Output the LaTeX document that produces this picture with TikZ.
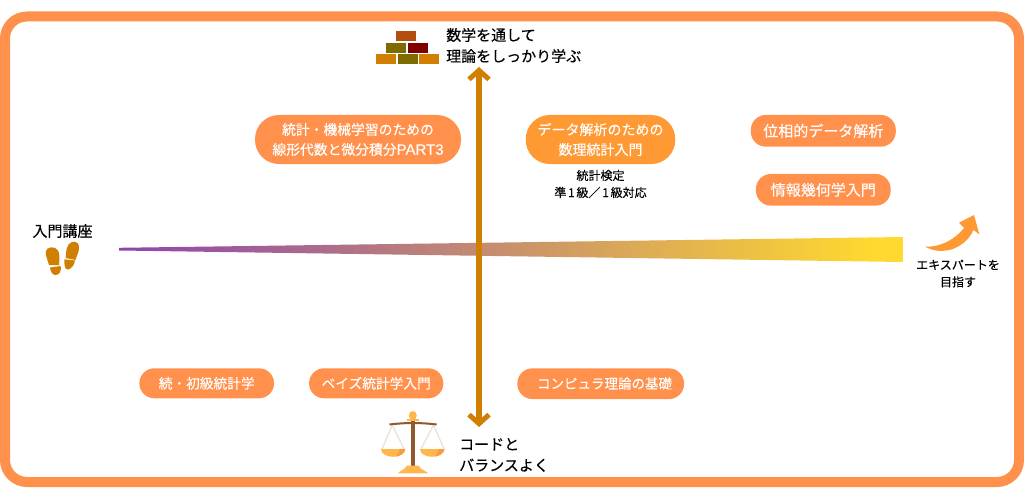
\documentclass[tikz,border=0pt]{standalone}
\usepackage{fontspec}
\setmainfont[FakeBold=0.3]{Noto Sans CJK JP}
\newfontfamily\latinface[FakeBold=0.2]{Liberation Sans}
\usetikzlibrary{arrows.meta}
\definecolor{frameor}{HTML}{FF914D}
\definecolor{pillhi}{HTML}{FF9933}
\definecolor{axisor}{HTML}{D17F00}
\definecolor{brickA}{HTML}{B34D10}
\definecolor{brickB}{HTML}{7F6A00}
\definecolor{brickC}{HTML}{7F0000}
\definecolor{gradA}{HTML}{8E44AD}
\definecolor{gradB}{HTML}{FFD92F}
\definecolor{beam}{HTML}{91572F}
\definecolor{pan}{HTML}{FFB74D}
\definecolor{pandark}{HTML}{FF9A3C}
\definecolor{strng}{HTML}{EFE3D6}
\tikzset{
  pill/.style={rounded corners=15pt,fill=frameor,text=white,inner sep=0pt,align=center,font=\fontsize{14}{20}\selectfont},
  lab/.style={text=black,align=left,inner sep=0pt,font=\fontsize{15}{21}\selectfont},
  smalllab/.style={text=black,align=center,inner sep=0pt,font=\fontsize{12}{17}\selectfont},
  brick/.style={minimum width=20pt,minimum height=10pt,inner sep=0pt},
  axisline/.style={draw=axisor,line width=5.4pt,{Straight Barb[length=9pt,width=20pt,line width=5pt]}-{Straight Barb[length=9pt,width=20pt,line width=5pt]}}
}
\begin{document}
\begin{tikzpicture}[x=1pt,y=-1pt]
\useasboundingbox (0,0) rectangle (1024,500);
\fill[white] (0,0) rectangle (1024,500);
\draw[frameor,line width=10pt,rounded corners=22pt] (5,16.5) rectangle (1019,482);
% wedge
\begin{scope}
\clip (119,247.8) -- (903,237) -- (903,262) -- (119,250.5) -- cycle;
\shade[left color=gradA,right color=gradB] (119,230) rectangle (875,270);
\fill[gradB] (874.5,230) rectangle (903,270);
\end{scope}
% axis
\coordinate (top) at (479,67);
\coordinate (bot) at (479,427);
\draw[axisline] (top) -- (bot);
% bricks
\node[brick,fill=brickA] (b1) at (406,36) {};
\node[brick,fill=brickB] (b2) at (396,47.7) {};
\node[brick,fill=brickC] (b3) at (417.7,47.7) {};
\node[brick,fill=axisor] (b4) at (386,59.3) {};
\node[brick,fill=brickB] (b5) at (407.7,59.3) {};
\node[brick,fill=axisor] (b6) at (429.3,59.3) {};
\node[lab,anchor=west] (toplab) at (446,45.5) {数学を通して\\理論をしっかり学ぶ};
\node[lab,anchor=west] (botlab) at (459,455) {コードと\\バランスよく};
% pills
\node[pill,rounded corners=24pt,minimum width=206pt,minimum height=49pt,font=\fontsize{13.8}{20}\selectfont] (p1) at (358,139.5) {統計・機械学習のための\\線形代数と微分積分{\latinface\fontsize{15}{20}\selectfont PART3}};
\node[pill,rounded corners=24pt,fill=pillhi,minimum width=149.5pt,minimum height=49pt] (p2) at (600.5,139.5) {データ解析のための\\数理統計入門};
\node[smalllab] (p2note) at (600.5,184) {統計検定\\準\kern1.75pt 1\kern1.75pt 級／\kern1.75pt 1\kern1.75pt 級対応};
\node[pill,minimum width=145pt,minimum height=31.7pt,font=\fontsize{15}{20}\selectfont] (p3) at (823.3,130.8) {位相的データ解析};
\node[pill,minimum width=134.7pt,minimum height=31.7pt,font=\fontsize{15}{20}\selectfont] (p4) at (823.3,189.8) {情報幾何学入門};
\node[pill,minimum width=134.7pt,minimum height=30pt,font=\fontsize{13.7}{18}\selectfont] (p5) at (206.7,383.3) {続・初級統計学};
\node[pill,minimum width=134.3pt,minimum height=30pt,font=\fontsize{13.7}{18}\selectfont] (p6) at (376.2,383.3) {ベイズ統計学入門};
\node[pill,minimum width=166.7pt,minimum height=30.7pt] (p7) at (600.7,383.7) {};
\node[text=white,inner sep=0pt,font=\fontsize{13.5}{18}\selectfont] (p7t) at (604.5,383.5) {コンピュラ理論の基礎};
% left
\node[lab,anchor=center,align=center] (start) at (62.5,231) {入門講座};
\fill[axisor] (45.7,252) .. controls (46,246.5) and (55,245.5) .. (58,250.5) .. controls (60,254) and (59.5,260) .. (59,265) -- (49,265) .. controls (47.5,260) and (45.7,256) .. (45.7,252) -- cycle;
\fill[axisor] (50,267.5) -- (60.7,266) .. controls (61.5,270.5) and (60,275) .. (55.5,275) .. controls (52,275) and (50.5,271) .. (50,267.5) -- cycle;
\fill[axisor] (65.7,258) .. controls (65.7,252) and (66.5,243.5) .. (72,242) .. controls (77.5,241) and (79.5,244) .. (79,249) .. controls (78.5,253) and (76.5,256) .. (75.5,260) -- cycle;
\fill[axisor] (64.5,259.3) -- (75,260.5) .. controls (74.5,265) and (71,269.5) .. (67.5,269.5) .. controls (64.5,269.5) and (64,263) .. (64.5,259.3) -- cycle;
% expert arrow
\fill[pillhi] (925,246.7) .. controls (942,247) and (955,239) .. (964,228) -- (959,222.7) -- (974,215) -- (979.3,234.3) -- (973.5,230) .. controls (968,243) and (953,253) .. (936,250.5) .. controls (932,250) and (928,248) .. (925,246.7) -- cycle;
\node[smalllab] (expert) at (958,273.5) {エキスパートを\\目指す};
% scales
\draw[strng,line width=1.4pt,line join=round] (392.3,425) -- (382,449) (392.3,425) -- (404,449);
\draw[strng,line width=1.4pt,line join=round] (433.5,425) -- (421,449) (433.5,425) -- (444,449);
\fill[pan] (381,449) -- (405.3,449) .. controls (405,454) and (399,456.8) .. (393,456.8) .. controls (387,456.8) and (381,454) .. (381,449) -- cycle;
\fill[pan] (420,449) -- (444.5,449) .. controls (444,454) and (438,456.8) .. (432,456.8) .. controls (426,456.8) and (420,454) .. (420,449) -- cycle;
\fill[pandark] (400,449) -- (405.3,449) .. controls (405,453) and (401,455.8) .. (396,456.5) .. controls (398,454) and (399.5,452) .. (400,449) -- cycle;
\fill[pandark] (439,449) -- (444.5,449) .. controls (444,453) and (440,455.8) .. (435,456.5) .. controls (437,454) and (438.5,452) .. (439,449) -- cycle;
\fill[beam] (410.7,420) rectangle (415.2,468);
\draw[beam,line width=2pt] (389.5,424.5) .. controls (398,423.5) and (405,423) .. (413,423) .. controls (421,423) and (428,423.5) .. (436.7,424.5);
\fill[pan] (412.8,415.5) ellipse (4pt and 4.5pt);
\fill[pan] (407,419) rectangle (418.7,421.3);
\fill[pan] (397.8,473.3) .. controls (400,470.5) and (405,470) .. (407,465.5) -- (418.5,465.5) .. controls (420.5,470) and (426,470.5) .. (428,473.3) -- cycle;
\end{tikzpicture}
\end{document}
